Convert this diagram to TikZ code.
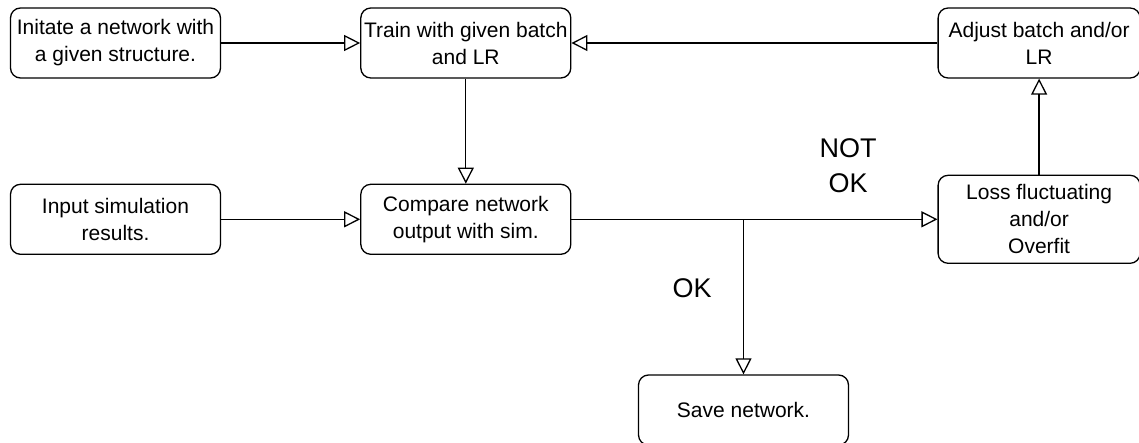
\documentclass[tikz,border=0pt]{standalone}
\usepackage{fontspec}
\setmainfont{Liberation Sans}
\usetikzlibrary{arrows.meta, positioning}

\tikzset{
  stepbox/.style={draw, rounded corners=5pt, line width=0.65pt, minimum width=105pt, minimum height=35pt, align=center, inner sep=1pt, font=\fontsize{10.5}{13.5}\selectfont},
  flow/.style={-{Triangle[open, length=8pt, width=8pt]}, line width=0.65pt},
  verdict/.style={align=center, font=\fontsize{13.5}{17.5}\selectfont}
}

\begin{document}
\begin{tikzpicture}[x=0.5pt, y=-0.5pt]
    \useasboundingbox (0,0) rectangle (1139,443);

    % Nodes
    \node (init) [stepbox] at (115.5,43) {Initate a network with\\a given structure.};
    \node (train) [stepbox, right=69.5pt of init] {Train with given batch\\and LR};
    \node (adjust) [stepbox, minimum width=101pt, right=183pt of train] {Adjust batch and/or\\LR};
    \node (input) [stepbox, below=52.5pt of init] {Input simulation\\results.};
    \node (compare) [stepbox, below=52.5pt of train] {Compare network\\output with sim.};
    \node (loss) [stepbox, minimum width=101pt, minimum height=44pt, below=48pt of adjust] {Loss fluctuating\\and/or\\Overfit};
    \node (save) [stepbox] at (743.5,410) {Save network.};
    \coordinate (split) at (save.north |- compare.east);

    % Labels
    \node (notok) [verdict] at (848,166) {NOT\\OK};
    \node (ok) [verdict] at (692,288) {OK};

    % Edges
    \draw[flow] (init) -- (train);
    \draw[flow] (adjust) -- (train);
    \draw[flow] (train) -- (compare);
    \draw[flow] (input) -- (compare);
    \draw[flow] (compare) -- (loss);
    \draw[flow] (split) -- (save);
    \draw[flow] (loss) -- (adjust);
\end{tikzpicture}
\end{document}
